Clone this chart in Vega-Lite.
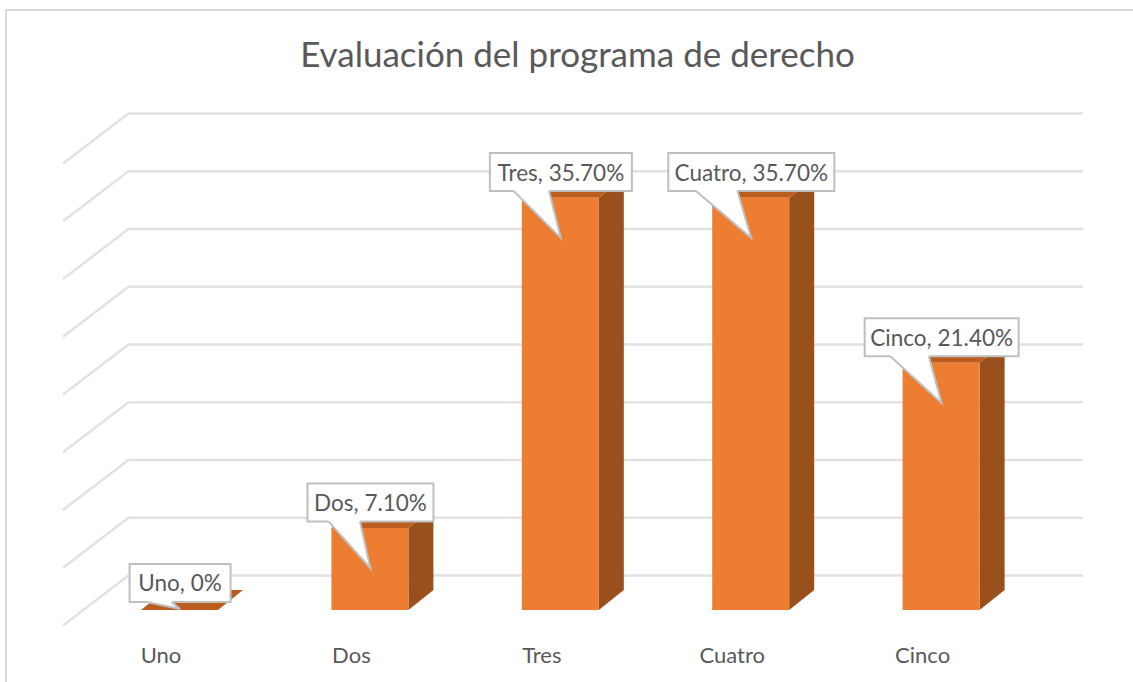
{
"$schema":"https://vega.github.io/schema/vega-lite/v6.json",
"width":1130,"height":675,
"autosize":{"type":"none"},
"padding":{"left":6,"top":10,"right":0,"bottom":0},
"background":"white",
"view":{"stroke":"#d9d9d9","strokeWidth":2},
"title":{"text":"Evaluación del programa de derecho","anchor":"middle","orient":"top","offset":-57,"dy":7,"dx":6.5,"font":"Lato","fontSize":35,"fontWeight":"normal","color":"#595959"},
"datasets":{
"bars":[
{"orden":0,"cat":"Uno","pct":0,"label":"Uno, 0%"},
{"orden":1,"cat":"Dos","pct":7.1,"label":"Dos, 7.10%"},
{"orden":2,"cat":"Tres","pct":35.7,"label":"Tres, 35.70%"},
{"orden":3,"cat":"Cuatro","pct":35.7,"label":"Cuatro, 35.70%"},
{"orden":4,"cat":"Cinco","pct":21.4,"label":"Cinco, 21.40%"}],
"grid":[{"tick":0},{"tick":5},{"tick":10},{"tick":15},{"tick":20},{"tick":25},{"tick":30},{"tick":35},{"tick":40}]
},
"encoding":{
"x":{"field":"x","type":"quantitative","axis":null,"scale":{"domain":[-0.9113,5.0236],"nice":false,"zero":false}},
"y":{"field":"y","type":"quantitative","axis":null,"scale":{"domain":[-6.494,51.948],"nice":false,"zero":false}}
},
"layer":[
{"data":{"name":"grid"},
"transform":[{"calculate":"[0,1,2]","as":"seg"},{"flatten":["seg"]},
{"calculate":"[-0.6119,-0.2679,4.745][datum.seg]","as":"x"},
{"calculate":"datum.tick+[-1.342,2.987,2.987][datum.seg]","as":"y"}],
"mark":{"type":"line","stroke":"#e2e2e2","strokeWidth":2.5,"interpolate":"linear"},
"encoding":{"detail":{"field":"tick"},"order":{"field":"seg"}}},
{"data":{"name":"bars"},
"transform":[{"calculate":"[0,1]","as":"t"},{"flatten":["t"]},
{"calculate":"datum.orden+0.2022+datum.t*0.1313","as":"x"},
{"calculate":"datum.pct+datum.t*1.732","as":"y"},
{"calculate":"datum.t*1.732","as":"y0"}],
"mark":{"type":"area","color":"#9A501C"},
"encoding":{"y2":{"field":"y0"},"detail":{"field":"cat"}}},
{"data":{"name":"bars"},
"transform":[{"calculate":"[0,1,2,3]","as":"t"},{"flatten":["t"]},
{"calculate":"datum.orden+[-0.2022,-0.0709,0.2022,0.3335][datum.t]","as":"x"},
{"calculate":"datum.pct+[0,1.732,1.732,1.732][datum.t]","as":"y"},
{"calculate":"datum.pct+[0,0,0,1.732][datum.t]","as":"y0"}],
"mark":{"type":"area","color":"#BA5D1E"},
"encoding":{"y2":{"field":"y0"},"detail":{"field":"cat"}}},
{"data":{"name":"bars"},
"transform":[{"calculate":"datum.orden-0.2022","as":"x"},{"calculate":"datum.orden+0.2022","as":"x1"},{"calculate":"datum.pct","as":"y"},{"calculate":"0","as":"y0"}],
"mark":{"type":"rect","color":"#ED7D31"},
"encoding":{"x2":{"field":"x1"},"y2":{"field":"y0"}}},
{"data":{"name":"bars"},
"transform":[
{"calculate":"datum.orden+0.003","as":"cx"},
{"calculate":"[50.5,63,71,83,77][datum.orden]/190.4","as":"hw"},
{"calculate":"datum.pct>0?datum.pct-3.5:0.09","as":"tip"},
{"calculate":"datum.pct>0?datum.tip+4.07:0.69","as":"bottom"},
{"calculate":"datum.bottom+3.29","as":"top"},
{"calculate":"datum.cx-datum.hw","as":"x"},
{"calculate":"datum.cx+datum.hw","as":"x1"},
{"calculate":"datum.bottom","as":"y"},
{"calculate":"datum.top","as":"y0"}],
"mark":{"type":"rect","fill":"white","stroke":"#bfbfbf","strokeWidth":2},
"encoding":{"x2":{"field":"x1"},"y2":{"field":"y0"}}},
{"data":{"name":"bars"},
"transform":[
{"calculate":"datum.orden+0.003","as":"cx"},
{"calculate":"[50.5,63,71,83,77][datum.orden]/190.4","as":"hw"},
{"calculate":"datum.pct>0?datum.pct-3.5:0.09","as":"tip"},
{"calculate":"datum.pct>0?datum.tip+4.07:0.69","as":"bottom"},
{"calculate":"datum.cx-datum.hw*2/3","as":"bl"},
{"calculate":"datum.cx-datum.hw/6","as":"br"},
{"calculate":"[0,1,2]","as":"seg"},{"flatten":["seg"]},
{"calculate":"[datum.bl,datum.br,datum.cx][datum.seg]","as":"x"},
{"calculate":"datum.seg==2?datum.tip:datum.bottom+0.12","as":"y"},
{"calculate":"datum.seg==0?datum.bottom:datum.seg==1?datum.bottom-(datum.bottom-datum.tip)*(datum.br-datum.bl)/(datum.cx-datum.bl):datum.tip","as":"y0"}],
"mark":{"type":"area","color":"white"},
"encoding":{"y2":{"field":"y0"},"detail":{"field":"cat"}}},
{"data":{"name":"bars"},
"transform":[
{"calculate":"datum.orden+0.003","as":"cx"},
{"calculate":"[50.5,63,71,83,77][datum.orden]/190.4","as":"hw"},
{"calculate":"datum.pct>0?datum.pct-3.5:0.09","as":"tip"},
{"calculate":"datum.pct>0?datum.tip+4.07:0.69","as":"bottom"},
{"calculate":"[0,1,2]","as":"seg"},{"flatten":["seg"]},
{"calculate":"[datum.cx-datum.hw*2/3,datum.cx,datum.cx-datum.hw/6][datum.seg]","as":"x"},
{"calculate":"datum.seg==1?datum.tip:datum.bottom","as":"y"}],
"mark":{"type":"line","stroke":"#bfbfbf","strokeWidth":2},
"encoding":{"detail":{"field":"cat"},"order":{"field":"seg"}}},
{"data":{"name":"bars"},
"transform":[
{"calculate":"datum.orden+0.003","as":"x"},
{"calculate":"(datum.pct>0?datum.pct-3.5+4.07:0.69)+1.52","as":"y"}],
"mark":{"type":"text","font":"Lato","fontSize":22.5,"color":"#595959","baseline":"middle","align":"center"},
"encoding":{"text":{"field":"label"}}},
{"data":{"name":"bars"},
"transform":[
{"calculate":"datum.orden-0.0972","as":"x"},
{"calculate":"-3.94","as":"y"}],
"mark":{"type":"text","font":"Lato","fontSize":22,"color":"#595959","baseline":"middle","align":"center"},
"encoding":{"text":{"field":"cat"}}}
]
}
